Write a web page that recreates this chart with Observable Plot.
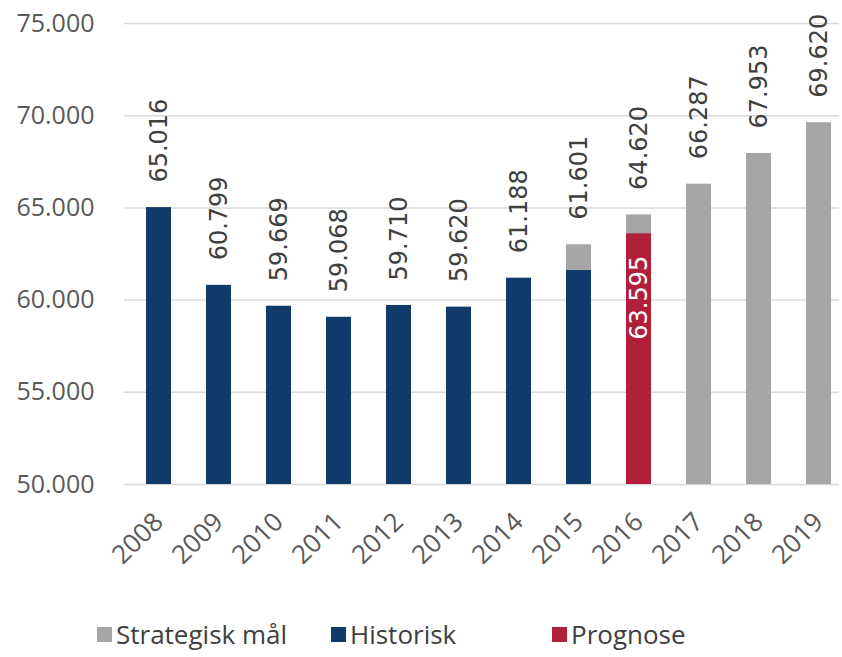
<!DOCTYPE html>
<html><head><meta charset="utf-8">
<script src="https://cdn.jsdelivr.net/npm/d3@7"></script>
<script src="https://cdn.jsdelivr.net/npm/@observablehq/plot@0.6"></script>
<style>
body{margin:0;background:#fff;overflow:hidden;}
#chart{width:842px;height:590px;}
#legend{position:relative;height:67px;width:842px;font-family:"Open Sans",sans-serif;font-size:26px;color:#404040;}
.item{position:absolute;top:26px;display:flex;align-items:center;white-space:nowrap;}
.sw{width:15px;height:15px;margin-right:4px;}
</style></head><body><div id="chart"></div><div id="legend"></div>
<script>
const years = ["2008","2009","2010","2011","2012","2013","2014","2015","2016","2017","2018","2019"];
const historisk = [65016,60799,59669,59068,59710,59620,61188,61601,null,null,null,null];
const prognose = [null,null,null,null,null,null,null,null,63595,null,null,null];
const strategisk = [null,null,null,null,null,null,null,63000,64620,66287,67953,69620];
const yTicks = [50000,55000,60000,65000,70000,75000];
const seriesNames = ["Strategisk mål","Historisk","Prognose"];
const seriesColors = ["#a6a6a6","#0f3a6a","#b21f3b"];
const legendLeft = [97,331,552];

const fmt = v => d3.format(",")(v).replace(/,/g, ".");
const yMin = d3.min(yTicks);

const rows = [];
[strategisk, historisk, prognose].forEach((arr, s) => {
  arr.forEach((v, i) => { if (v != null) rows.push({year: years[i], series: seriesNames[s], value: v}); });
});
const outside = years.map((y, i) => ({
  year: y,
  label: historisk[i] != null ? historisk[i] : strategisk[i],
  anchor: d3.max([historisk[i], strategisk[i]].filter(v => v != null))
}));
const inside = years.map((y, i) => ({year: y, value: prognose[i]})).filter(d => d.value != null);

const chart = Plot.plot({
  width: 842,
  height: 590,
  marginTop: 23,
  marginBottom: 106,
  marginLeft: 124,
  marginRight: 3,
  style: {fontFamily: "Open Sans", background: "#fff"},
  x: {domain: years, paddingInner: 0.586, paddingOuter: 0.207, align: 0.72, label: null},
  y: {domain: [yMin, d3.max(yTicks)], label: null},
  color: {domain: seriesNames, range: seriesColors},
  marks: [
    Plot.gridY(yTicks, {stroke: "#d9d9d9", strokeOpacity: 1, strokeWidth: 1.5}),
    Plot.barY(rows, {x: "year", y1: () => yMin, y2: "value", fill: "series"}),
    Plot.text(outside, {x: "year", y: "anchor", text: d => fmt(d.label), rotate: -90, textAnchor: "start", dy: -25, fontSize: 24, fontFamily: "DejaVu Sans", fill: "#404040"}),
    Plot.text(inside, {x: "year", y: "value", text: d => fmt(d.value), rotate: -90, textAnchor: "end", dy: 22, fontSize: 24, fontFamily: "DejaVu Sans", fill: "#ffffff"}),
    Plot.axisY({ticks: yTicks, tickFormat: fmt, tickSize: 0, tickPadding: 30, fontSize: 25, fill: "#595959"}),
    Plot.axisX({tickRotate: -45, tickSize: 0, tickPadding: 33, dx: 0, fontSize: 26, fill: "#595959"})
  ]
});
document.getElementById("chart").appendChild(chart);

const legend = document.getElementById("legend");
seriesNames.forEach((name, i) => {
  const it = document.createElement("div");
  it.className = "item";
  it.style.left = legendLeft[i] + "px";
  const sw = document.createElement("div");
  sw.className = "sw";
  sw.style.background = seriesColors[i];
  const tx = document.createElement("span");
  tx.textContent = name;
  it.appendChild(sw); it.appendChild(tx);
  legend.appendChild(it);
});
</script></body></html>
